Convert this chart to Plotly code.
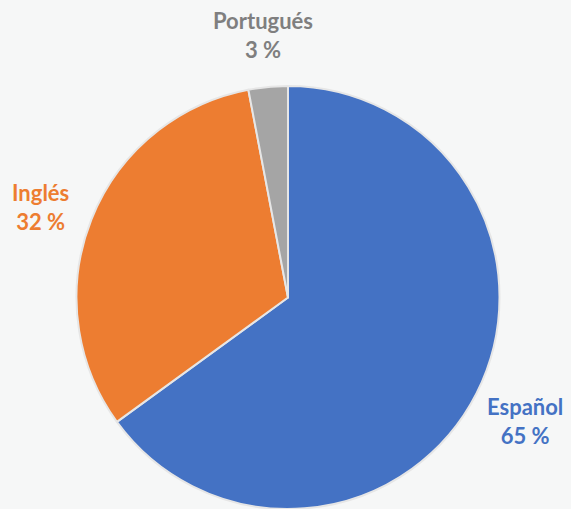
import plotly.graph_objects as go

labels = ["Español", "Inglés", "Portugués"]
values = [65, 32, 3]
colors = ["#4472C4", "#ED7D31", "#A5A5A5"]
text_colors = ["#4472C4", "#ED7D31", "#7F7F7F"]
label_pos = [(525, 421), (40, 207), (263, 35)]  # pixel centers

W, H = 571, 509
TOP = 86
PH = H - TOP

fig = go.Figure(go.Pie(
    labels=labels, values=values, sort=False, direction="clockwise", rotation=0,
    marker=dict(colors=colors, line=dict(color="#e6e6e6", width=2)),
    textinfo="none", hoverinfo="label+percent", showlegend=False,
    domain=dict(x=[(288 - 212) / W, (288 + 212) / W], y=[0, 1]),
))

total = sum(values)
for lab, v, c, (px, py) in zip(labels, values, text_colors, label_pos):
    fig.add_annotation(
        x=px / W, y=(H - py) / PH, xref="paper", yref="paper",
        text=f"<b>{lab}<br>{round(v / total * 100)} %</b>",
        showarrow=False, xanchor="center", yanchor="middle",
        font=dict(family="Lato", size=22, color=c), align="center",
    )

fig.update_layout(
    width=W, height=H,
    margin=dict(l=0, r=0, t=TOP, b=0),
    paper_bgcolor="#f6f7f7", plot_bgcolor="#f6f7f7",
)
fig.write_html("out.html")
